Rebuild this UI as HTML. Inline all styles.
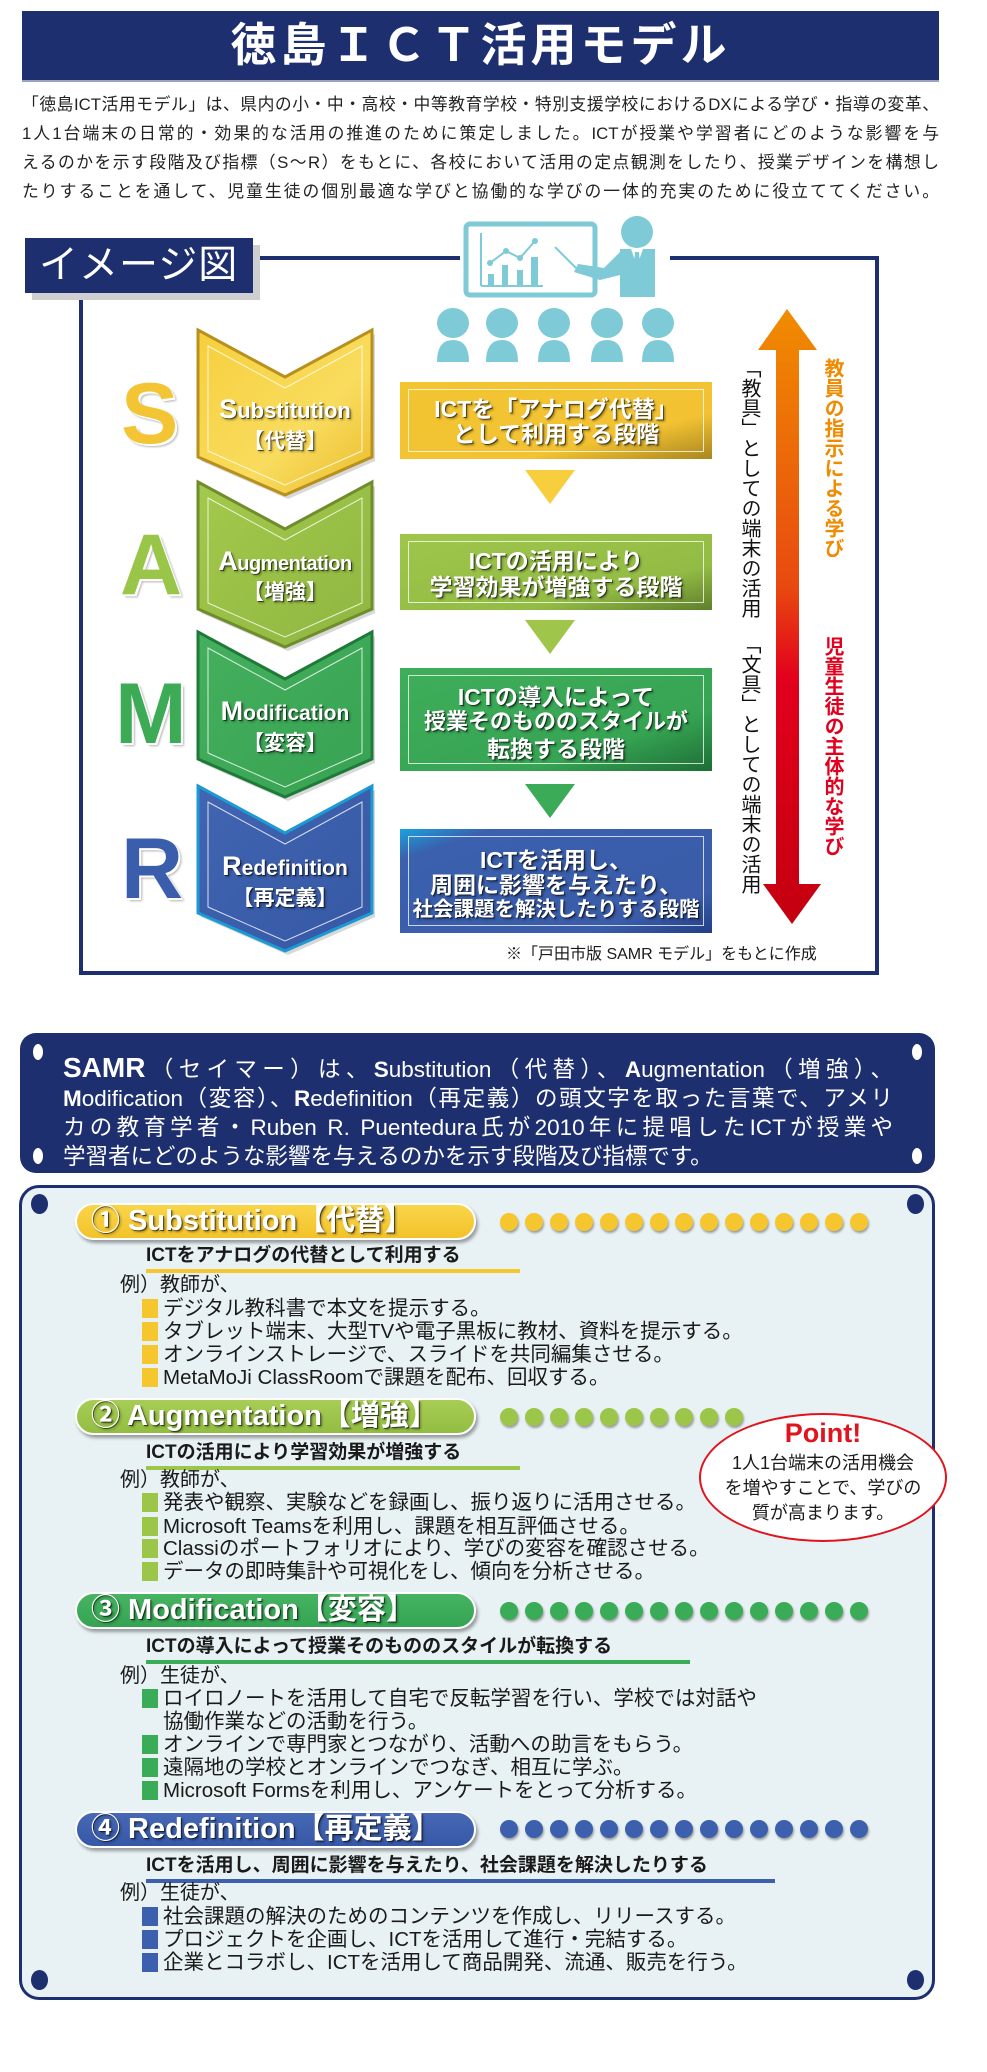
<!DOCTYPE html>
<html><head><meta charset="utf-8">
<style>
*{margin:0;padding:0;box-sizing:border-box}
body{width:987px;height:2072px;background:#fff;position:relative;overflow:hidden;font-family:"Liberation Sans","Noto Sans CJK JP",sans-serif;color:#1a1a1a}
.a{position:absolute}
.sh{color:#fff;text-shadow:1px 1px 0 rgba(0,0,0,.55),2px 2px 2px rgba(0,0,0,.35)}
.big{position:absolute;font-weight:bold;font-size:86px;line-height:1;text-shadow:2px 2px 0 #fff,3px 3px 2px rgba(0,0,0,.3)}
.ct{position:absolute;text-align:center;font-weight:bold;white-space:nowrap}
.box{position:absolute;left:400px;width:312px}
.box .in{position:absolute;left:8px;top:7px;right:8px;bottom:7px;border:1.5px solid rgba(255,255,255,.75)}
.box .t{position:absolute;left:0;right:0;text-align:center;font-weight:bold;font-size:23px;white-space:nowrap}
.pill{position:absolute;left:75px;width:401px;height:37px;border-radius:19px;border:2px solid #fff;box-shadow:2px 3px 3px rgba(0,0,0,.35);font-weight:bold;font-size:29px;line-height:33px;padding-left:14px;white-space:nowrap}
.dots{position:absolute;left:500px;height:20px;display:flex;gap:7px}
.dots i{display:block;width:18px;height:18px;border-radius:50%;box-shadow:1px 2px 2px rgba(0,0,0,.35)}
.sub{position:absolute;left:146px;font-weight:bold;font-size:19px;line-height:20px;white-space:nowrap;padding-bottom:3px}
.ex{position:absolute;left:120px;font-size:20px;line-height:22px;white-space:nowrap}
.it{position:absolute;left:142px;font-size:20.5px;line-height:22px;white-space:nowrap}
.it b{display:inline-block;width:16px;height:19px;margin-right:5px;vertical-align:-3px}
.vt{position:absolute;writing-mode:vertical-rl;font-size:20px;line-height:24px;white-space:nowrap}
.j{text-align:justify;text-align-last:justify;white-space:nowrap}
</style></head><body>

<div class="a" style="left:22px;top:11px;width:917px;height:69px;background:#1d2f6f;box-shadow:0 2px 0 #9aa3bf"></div>
<div class="a" style="left:22px;top:11px;width:917px;height:69px;text-align:center;color:#fff;font-weight:bold;font-size:46px;line-height:69px;letter-spacing:4px">徳島ＩＣＴ活用モデル</div>

<div style="position:absolute;left:22px;top:90px;width:917px;font-size:16.8px;line-height:29px;color:#222">
<div class="j">「徳島ICT活用モデル」は、県内の小・中・高校・中等教育学校・特別支援学校におけるDXによる学び・指導の変革、</div>
<div class="j">1人1台端末の日常的・効果的な活用の推進のために策定しました。ICTが授業や学習者にどのような影響を与</div>
<div class="j">えるのかを示す段階及び指標（S～R）をもとに、各校において活用の定点観測をしたり、授業デザインを構想し</div>
<div class="j">たりすることを通して、児童生徒の個別最適な学びと協働的な学びの一体的充実のために役立ててください。</div>
</div>

<div class="a" style="left:79px;top:256px;width:800px;height:719px;border:4px solid #1d2f6f"></div>
<div class="a" style="left:460px;top:215px;width:210px;height:50px;background:#fff"></div>
<div class="a" style="left:32px;top:245px;width:228px;height:55px;background:#cfcfd2"></div>
<div class="a" style="left:25px;top:238px;width:228px;height:55px;background:#1d2f6f;color:#fff;font-size:39px;line-height:55px;padding-left:14px;letter-spacing:1px">イメージ図</div>

<svg class="a" style="left:0;top:0" width="987" height="1000">
<defs>
<linearGradient id="gS" x1="0" y1="0" x2="1" y2="1"><stop offset="0" stop-color="#f6cf3c"/><stop offset=".6" stop-color="#f9dc5e"/><stop offset="1" stop-color="#e9bb2a"/></linearGradient>
<linearGradient id="gA" x1="0" y1="0" x2="1" y2="1"><stop offset="0" stop-color="#a3c94c"/><stop offset="1" stop-color="#8fb640"/></linearGradient>
<linearGradient id="gM" x1="0" y1="0" x2="1" y2="1"><stop offset="0" stop-color="#44b05e"/><stop offset="1" stop-color="#37a251"/></linearGradient>
<linearGradient id="gR" x1="0" y1="0" x2="1" y2="1"><stop offset="0" stop-color="#4165b2"/><stop offset="1" stop-color="#3658a5"/></linearGradient>
<linearGradient id="bS" x1="0" y1="0" x2="1" y2="1"><stop offset="0" stop-color="#f3c531"/><stop offset=".7" stop-color="#f2c232"/><stop offset="1" stop-color="#a98720"/></linearGradient>
<linearGradient id="bA" x1="0" y1="0" x2="1" y2="1"><stop offset="0" stop-color="#9fc64b"/><stop offset=".7" stop-color="#93bc45"/><stop offset="1" stop-color="#5f7f2a"/></linearGradient>
<linearGradient id="bM" x1="0" y1="0" x2="1" y2="1"><stop offset="0" stop-color="#3fae5a"/><stop offset=".7" stop-color="#36a453"/><stop offset="1" stop-color="#1d6e35"/></linearGradient>
<linearGradient id="bR" x1="0" y1="0" x2="1" y2="1"><stop offset="0" stop-color="#1aa2dc"/><stop offset=".15" stop-color="#3a60ae"/><stop offset=".8" stop-color="#3a5ca9"/><stop offset="1" stop-color="#223f85"/></linearGradient>
<linearGradient id="arr" x1="0" y1="0" x2="0" y2="1"><stop offset="0" stop-color="#f08c00"/><stop offset=".45" stop-color="#e84a10"/><stop offset=".6" stop-color="#e2001c"/><stop offset="1" stop-color="#c4000f"/></linearGradient>
</defs>
<g fill="#7ecad6" stroke="none">
<rect x="466" y="224" width="129" height="71" rx="4" fill="#fff" stroke="#7ecad6" stroke-width="5"/>
<line x1="481" y1="233" x2="481" y2="286" stroke="#7ecad6" stroke-width="2"/>
<line x1="481" y1="286" x2="543" y2="286" stroke="#7ecad6" stroke-width="2"/>
<rect x="488" y="274" width="6" height="12"/><rect x="502" y="265" width="6" height="21"/><rect x="517" y="270" width="6" height="16"/><rect x="531" y="257" width="7" height="29"/>
<polyline points="490,263 506,251 520,258 535,241" fill="none" stroke="#7ecad6" stroke-width="2"/>
<circle cx="490" cy="263" r="3"/><circle cx="506" cy="251" r="3"/><circle cx="520" cy="258" r="3"/><circle cx="535" cy="241" r="3"/>
<line x1="555" y1="247" x2="576" y2="268" stroke="#7ecad6" stroke-width="2"/>
<circle cx="637" cy="232" r="16"/>
<path d="M620 249 L655 249 L655 297 L620 297 L620 275 L600 280 L574 272 L578 264 L604 268 L620 252Z"/>
<path d="M631 249 L643 249 L637 266Z" fill="#fff"/>
<path d="M635 252 L639 252 L640 264 L637 268 L634 264Z"/>
</g>
<g fill="#7ecad6">
<ellipse cx="453" cy="323" rx="16" ry="15"/><path d="M437 362 Q437 340 453 340 Q469 340 469 362Z"/>
<ellipse cx="502" cy="323" rx="16" ry="15"/><path d="M486 362 Q486 340 502 340 Q518 340 518 362Z"/>
<ellipse cx="554" cy="323" rx="16" ry="15"/><path d="M538 362 Q538 340 554 340 Q570 340 570 362Z"/>
<ellipse cx="607" cy="323" rx="16" ry="15"/><path d="M591 362 Q591 340 607 340 Q623 340 623 362Z"/>
<ellipse cx="658" cy="323" rx="16" ry="15"/><path d="M642 362 Q642 340 658 340 Q674 340 674 362Z"/>
</g>
<g>
<polygon transform="translate(3,4)" points="198,330 285,377 372,330 372,457 285,495 198,457" fill="#d8d8d8"/>
<polygon points="198,330 285,377 372,330 372,457 285,495 198,457" fill="url(#gS)" stroke="#b8901e" stroke-width="3"/>
<polygon points="208,346 285,388 362,346 362,451 285,485 208,451" fill="none" stroke="#fff" stroke-width="1" opacity=".8"/>
<polygon transform="translate(3,4)" points="198,482 285,529 372,482 372,609 285,647 198,609" fill="#d8d8d8"/>
<polygon points="198,482 285,529 372,482 372,609 285,647 198,609" fill="url(#gA)" stroke="#6f8d2c" stroke-width="3"/>
<polygon points="208,498 285,540 362,498 362,603 285,637 208,603" fill="none" stroke="#fff" stroke-width="1" opacity=".8"/>
<polygon transform="translate(3,4)" points="198,632 285,679 372,632 372,759 285,797 198,759" fill="#d8d8d8"/>
<polygon points="198,632 285,679 372,632 372,759 285,797 198,759" fill="url(#gM)" stroke="#1f7a3a" stroke-width="3"/>
<polygon points="208,648 285,690 362,648 362,753 285,787 208,753" fill="none" stroke="#fff" stroke-width="1" opacity=".8"/>
<polygon transform="translate(3,4)" points="198,786 285,833 372,786 372,913 285,951 198,913" fill="#d8d8d8"/>
<polygon points="198,786 285,833 372,786 372,913 285,951 198,913" fill="url(#gR)" stroke="#1b9ad4" stroke-width="3"/>
<polygon points="208,802 285,844 362,802 362,907 285,941 208,907" fill="none" stroke="#fff" stroke-width="1" opacity=".8"/>
</g>
<rect x="400" y="382" width="312" height="77" fill="url(#bS)"/>
<rect x="400" y="534" width="312" height="76" fill="url(#bA)"/>
<rect x="400" y="668" width="312" height="103" fill="url(#bM)"/>
<rect x="400" y="829" width="312" height="104" fill="url(#bR)"/>
<polygon points="525,470 575,470 550,504" fill="#f7cf3e"/>
<polygon points="525,620 575,620 550,654" fill="#9fc64a"/>
<polygon points="525,784 575,784 550,818" fill="#3bab58"/>
<polygon points="787,309 817,350 799,350 799,884 821,884 792,924 763,884 776,884 776,350 758,350" fill="url(#arr)"/>
</svg>

<div class="big" style="left:121px;top:371px;color:#f3c535">S</div>
<div class="big" style="left:120px;top:522px;color:#99c548">A</div>
<div class="big" style="left:115px;top:671px;color:#3dab55">M</div>
<div class="big" style="left:121px;top:826px;color:#3a5eab">R</div>

<div class="ct sh" style="left:200px;width:170px;top:394px;font-size:22px"><span style="font-size:27px">S</span>ubstitution</div>
<div class="ct sh" style="left:200px;width:170px;top:425px;font-size:21px">【代替】</div>
<div class="ct sh" style="left:200px;width:170px;top:546px;font-size:20px;letter-spacing:-.5px"><span style="font-size:27px">A</span>ugmentation</div>
<div class="ct sh" style="left:200px;width:170px;top:576px;font-size:21px">【増強】</div>
<div class="ct sh" style="left:200px;width:170px;top:696px;font-size:21px"><span style="font-size:27px">M</span>odification</div>
<div class="ct sh" style="left:200px;width:170px;top:727px;font-size:21px">【変容】</div>
<div class="ct sh" style="left:200px;width:170px;top:851px;font-size:21px"><span style="font-size:27px">R</span>edefinition</div>
<div class="ct sh" style="left:200px;width:170px;top:882px;font-size:21px">【再定義】</div>

<div class="box" style="top:382px;height:77px"><div class="in"></div>
<div class="t sh" style="top:8px">ICTを「アナログ代替」</div><div class="t sh" style="top:33px">として利用する段階</div></div>
<div class="box" style="top:534px;height:76px"><div class="in"></div>
<div class="t sh" style="top:8px">ICTの活用により</div><div class="t sh" style="top:34px">学習効果が増強する段階</div></div>
<div class="box" style="top:668px;height:103px"><div class="in"></div>
<div class="t sh" style="top:10px">ICTの導入によって</div><div class="t sh" style="top:36px;font-size:22px">授業そのもののスタイルが</div><div class="t sh" style="top:62px">転換する段階</div></div>
<div class="box" style="top:829px;height:104px"><div class="in"></div>
<div class="t sh" style="top:12px">ICTを活用し、</div><div class="t sh" style="top:37px">周囲に影響を与えたり、</div><div class="t sh" style="top:63px;font-size:20.5px">社会課題を解決したりする段階</div></div>

<div class="vt" style="left:737px;top:358px;color:#111">「教具」としての端末の活用</div>
<div class="vt" style="left:737px;top:634px;color:#111">「文具」としての端末の活用</div>
<div class="vt" style="left:820px;top:358px;color:#f08a00;font-weight:bold">教員の指示による学び</div>
<div class="vt" style="left:820px;top:636px;color:#e1001e;font-weight:bold">児童生徒の主体的な学び</div>

<div class="a" style="left:506px;top:945px;font-size:16px;line-height:20px;white-space:nowrap">※「戸田市版 SAMR モデル」をもとに作成</div>

<div class="a" style="left:20px;top:1033px;width:915px;height:140px;background:#1d2f6f;border-radius:16px"></div>
<div class="a" style="left:33px;top:1044px;width:10px;height:16px;border-radius:50%;background:#fff"></div>
<div class="a" style="left:912px;top:1044px;width:10px;height:16px;border-radius:50%;background:#fff"></div>
<div class="a" style="left:33px;top:1148px;width:10px;height:16px;border-radius:50%;background:#fff"></div>
<div class="a" style="left:912px;top:1148px;width:10px;height:16px;border-radius:50%;background:#fff"></div>
<div style="position:absolute;left:63px;top:1053px;width:830px;color:#fff;font-size:22.5px;line-height:29px">
<div class="j"><b style="font-size:28px">SAMR</b>（セイマー）は、<b>S</b>ubstitution（代替）、<b>A</b>ugmentation（増強）、</div>
<div class="j"><b>M</b>odification（変容）、<b>R</b>edefinition（再定義）の頭文字を取った言葉で、アメリ</div>
<div class="j">カの教育学者・Ruben R. Puentedura氏が2010年に提唱したICTが授業や</div>
<div style="white-space:nowrap">学習者にどのような影響を与えるのかを示す段階及び指標です。</div>
</div>

<div class="a" style="left:19px;top:1185px;width:916px;height:815px;background:#e8f1f3;border:3px solid #1d2f6f;border-radius:20px"></div>
<div class="a" style="left:31px;top:1194px;width:17px;height:20px;border-radius:50%;background:#1d2f6f"></div>
<div class="a" style="left:907px;top:1194px;width:17px;height:20px;border-radius:50%;background:#1d2f6f"></div>
<div class="a" style="left:31px;top:1970px;width:17px;height:20px;border-radius:50%;background:#1d2f6f"></div>
<div class="a" style="left:907px;top:1970px;width:17px;height:20px;border-radius:50%;background:#1d2f6f"></div>

<div class="pill sh" style="top:1203px;background:linear-gradient(#f9d54a,#f3c22a)">① Substitution【代替】</div>
<div class="dots" style="top:1213px"><i style="background:#f5c62e"></i><i style="background:#f5c62e"></i><i style="background:#f5c62e"></i><i style="background:#f5c62e"></i><i style="background:#f5c62e"></i><i style="background:#f5c62e"></i><i style="background:#f5c62e"></i><i style="background:#f5c62e"></i><i style="background:#f5c62e"></i><i style="background:#f5c62e"></i><i style="background:#f5c62e"></i><i style="background:#f5c62e"></i><i style="background:#f5c62e"></i><i style="background:#f5c62e"></i><i style="background:#f5c62e"></i></div>
<div class="sub" style="top:1246px;width:374px;border-bottom:4px solid #f5c62e">ICTをアナログの代替として利用する</div>
<div class="ex" style="top:1274px">例）教師が、</div>
<div class="it" style="top:1298px"><b style="background:#f5c62e"></b>デジタル教科書で本文を提示する。</div>
<div class="it" style="top:1321px"><b style="background:#f5c62e"></b>タブレット端末、大型TVや電子黒板に教材、資料を提示する。</div>
<div class="it" style="top:1344px"><b style="background:#f5c62e"></b>オンラインストレージで、スライドを共同編集させる。</div>
<div class="it" style="top:1367px"><b style="background:#f5c62e"></b>MetaMoJi ClassRoomで課題を配布、回収する。</div>

<div class="pill sh" style="top:1398px;background:linear-gradient(#a7cd55,#93bd42)">② Augmentation【増強】</div>
<div class="dots" style="top:1408px"><i style="background:#9cc64a"></i><i style="background:#9cc64a"></i><i style="background:#9cc64a"></i><i style="background:#9cc64a"></i><i style="background:#9cc64a"></i><i style="background:#9cc64a"></i><i style="background:#9cc64a"></i><i style="background:#9cc64a"></i><i style="background:#9cc64a"></i><i style="background:#9cc64a"></i></div>
<div class="sub" style="top:1443px;width:374px;border-bottom:4px solid #9cc64a">ICTの活用により学習効果が増強する</div>
<div class="ex" style="top:1469px">例）教師が、</div>
<div class="it" style="top:1492px"><b style="background:#9cc64a"></b>発表や観察、実験などを録画し、振り返りに活用させる。</div>
<div class="it" style="top:1516px"><b style="background:#9cc64a"></b>Microsoft Teamsを利用し、課題を相互評価させる。</div>
<div class="it" style="top:1538px"><b style="background:#9cc64a"></b>Classiのポートフォリオにより、学びの変容を確認させる。</div>
<div class="it" style="top:1561px"><b style="background:#9cc64a"></b>データの即時集計や可視化をし、傾向を分析させる。</div>

<div class="a" style="left:699px;top:1413px;width:248px;height:129px;border-radius:50%;border:2px solid #e0141e;background:#fff"></div>
<div class="a" style="left:699px;top:1418px;width:248px;text-align:center;color:#e0141e;font-weight:bold;font-size:27px;line-height:30px">Point!</div>
<div class="a" style="left:699px;top:1451px;width:248px;text-align:center;font-size:18px;line-height:25px">1人1台端末の活用機会<br>を増やすことで、学びの<br>質が高まります。</div>

<div class="pill sh" style="top:1592px;background:linear-gradient(#46b462,#35a452)">③ Modification【変容】</div>
<div class="dots" style="top:1602px"><i style="background:#3aab56"></i><i style="background:#3aab56"></i><i style="background:#3aab56"></i><i style="background:#3aab56"></i><i style="background:#3aab56"></i><i style="background:#3aab56"></i><i style="background:#3aab56"></i><i style="background:#3aab56"></i><i style="background:#3aab56"></i><i style="background:#3aab56"></i><i style="background:#3aab56"></i><i style="background:#3aab56"></i><i style="background:#3aab56"></i><i style="background:#3aab56"></i><i style="background:#3aab56"></i></div>
<div class="sub" style="top:1637px;width:544px;border-bottom:4px solid #3aab56">ICTの導入によって授業そのもののスタイルが転換する</div>
<div class="ex" style="top:1665px">例）生徒が、</div>
<div class="it" style="top:1688px"><b style="background:#3aab56"></b>ロイロノートを活用して自宅で反転学習を行い、学校では対話や</div>
<div class="it" style="top:1711px"><b style="background:transparent"></b>協働作業などの活動を行う。</div>
<div class="it" style="top:1734px"><b style="background:#3aab56"></b>オンラインで専門家とつながり、活動への助言をもらう。</div>
<div class="it" style="top:1757px"><b style="background:#3aab56"></b>遠隔地の学校とオンラインでつなぎ、相互に学ぶ。</div>
<div class="it" style="top:1780px"><b style="background:#3aab56"></b>Microsoft Formsを利用し、アンケートをとって分析する。</div>

<div class="pill sh" style="top:1811px;background:linear-gradient(#4668b5,#3658a6)">④ Redefinition【再定義】</div>
<div class="dots" style="top:1820px"><i style="background:#3c5fae"></i><i style="background:#3c5fae"></i><i style="background:#3c5fae"></i><i style="background:#3c5fae"></i><i style="background:#3c5fae"></i><i style="background:#3c5fae"></i><i style="background:#3c5fae"></i><i style="background:#3c5fae"></i><i style="background:#3c5fae"></i><i style="background:#3c5fae"></i><i style="background:#3c5fae"></i><i style="background:#3c5fae"></i><i style="background:#3c5fae"></i><i style="background:#3c5fae"></i><i style="background:#3c5fae"></i></div>
<div class="sub" style="top:1856px;width:629px;border-bottom:4px solid #3c5fae">ICTを活用し、周囲に影響を与えたり、社会課題を解決したりする</div>
<div class="ex" style="top:1882px">例）生徒が、</div>
<div class="it" style="top:1906px"><b style="background:#3c5fae"></b>社会課題の解決のためのコンテンツを作成し、リリースする。</div>
<div class="it" style="top:1929px"><b style="background:#3c5fae"></b>プロジェクトを企画し、ICTを活用して進行・完結する。</div>
<div class="it" style="top:1952px"><b style="background:#3c5fae"></b>企業とコラボし、ICTを活用して商品開発、流通、販売を行う。</div>

</body></html>
